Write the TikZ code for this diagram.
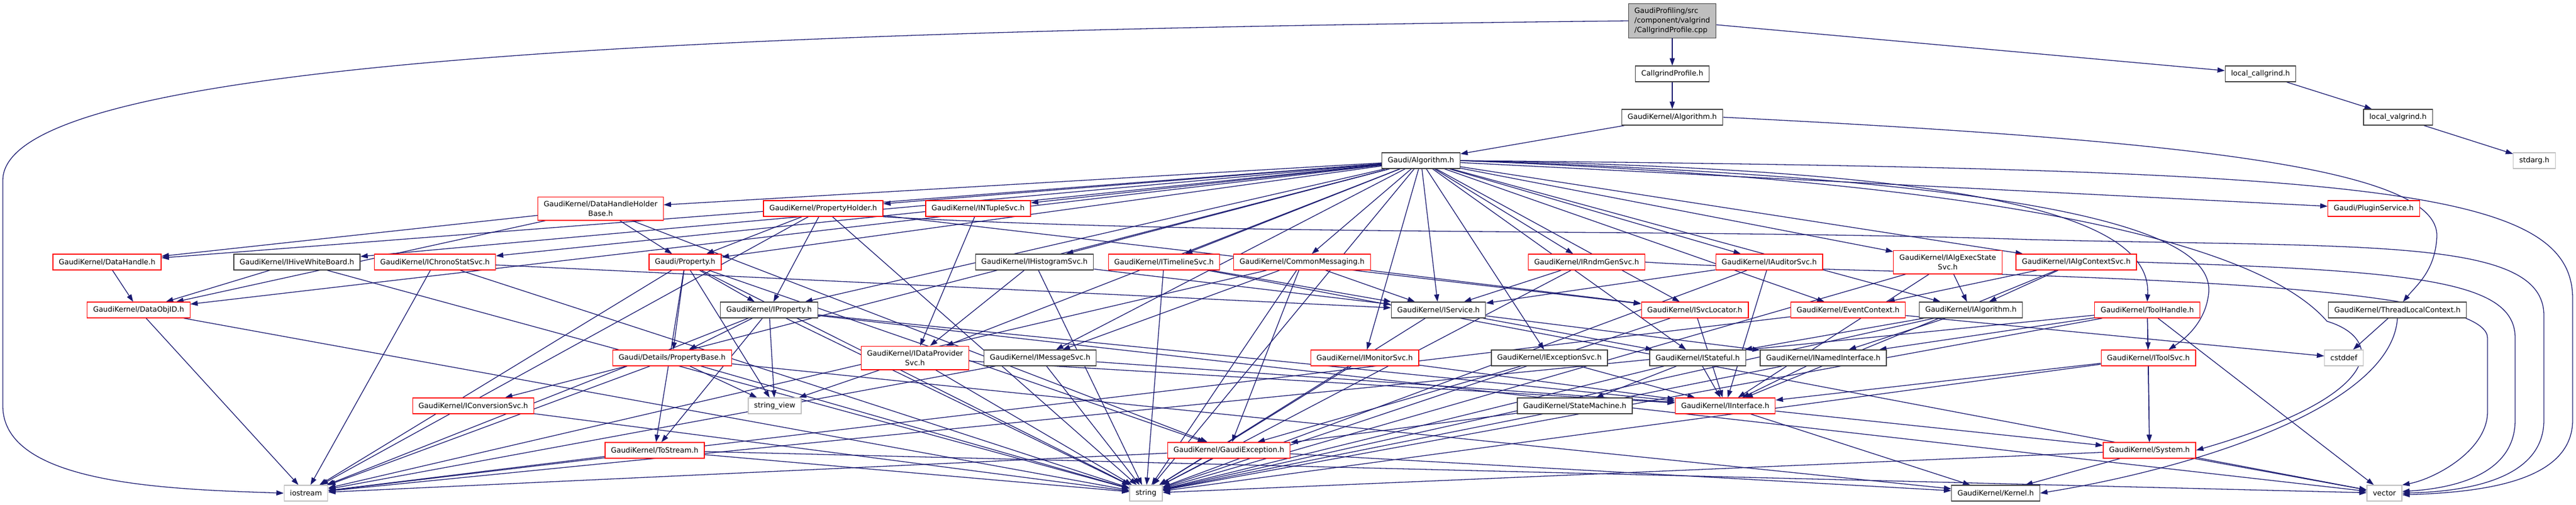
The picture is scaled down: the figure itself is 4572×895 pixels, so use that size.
\documentclass[tikz,border=0pt]{standalone}
\usepackage{fontspec}
\setmainfont{DejaVu Sans}
\usepackage{xcolor}
\usepackage{tikz}
\usetikzlibrary{arrows.meta}
\usetikzlibrary{backgrounds}
\definecolor{edgeblue}{HTML}{191970}
\definecolor{boxred}{HTML}{FF0000}
\definecolor{boxgray}{HTML}{BFBFBF}
\definecolor{boxblack}{HTML}{404040}
\tikzset{
    filebox/.style={
           rectangle,
           draw=boxblack, line width=1.3pt,
           fill=white,
           minimum height=28pt,
           inner xsep=10.5pt,
           inner ysep=7.5pt,
           align=center,
           font=\fontsize{12.9}{16.7}\selectfont,
           },
    redbox/.style={
           filebox,
           draw=boxred,
           },
    sysbox/.style={
           filebox,
           draw=boxgray,
           },
    mainbox/.style={
           filebox,
           fill=boxgray,
           align=left,
           },
    dep/.style={
           color=edgeblue, line width=1.3pt,
           -{Triangle[length=13pt,width=9pt]},
           },
}
\begin{document}
\begin{tikzpicture}[x=1pt, y=-1pt]
	\useasboundingbox (0,0) rectangle (4572,895);

	% top of the graph
	\node[mainbox] (main) at (2968,37) {GaudiProfiling/src\\/component/valgrind\\/CallgrindProfile.cpp};
	\node[filebox] (cgprof) at (2968,131) {CallgrindProfile.h};
	\node[filebox] (lcallgrind) at (4012,131) {local\_callgrind.h};
	\node[filebox] (gkalg) at (2968,208) {GaudiKernel/Algorithm.h};
	\node[filebox] (lvalgrind) at (4256,208) {local\_valgrind.h};
	\node[filebox] (ga) at (2522,285) {Gaudi/Algorithm.h};
	\node[sysbox] (stdarg) at (4498,285) {stdarg.h};

	% headers of Gaudi/Algorithm.h
	\node[redbox] (dhhb) at (1066,370) {GaudiKernel/DataHandleHolder\\Base.h};
	\node[redbox] (propholder) at (1461,370) {GaudiKernel/PropertyHolder.h};
	\node[redbox] (ntuple) at (1736,370) {GaudiKernel/INTupleSvc.h};
	\node[redbox] (plugin) at (4213,370) {Gaudi/PluginService.h};

	\node[redbox] (dhandle) at (190,465) {GaudiKernel/DataHandle.h};
	\node[filebox] (hive) at (527,465) {GaudiKernel/IHiveWhiteBoard.h};
	\node[redbox] (chrono) at (772,465) {GaudiKernel/IChronoStatSvc.h};
	\node[redbox] (prop) at (1216,465) {Gaudi/Property.h};
	\node[filebox] (histo) at (1836,465) {GaudiKernel/IHistogramSvc.h};
	\node[redbox] (timeline) at (2066,465) {GaudiKernel/ITimelineSvc.h};
	\node[redbox] (commsg) at (2311,465) {GaudiKernel/CommonMessaging.h};
	\node[redbox] (rndm) at (2816,465) {GaudiKernel/IRndmGenSvc.h};
	\node[redbox] (auditor) at (3140,465) {GaudiKernel/IAuditorSvc.h};
	\node[redbox] (execstate) at (3457,465) {GaudiKernel/IAlgExecState\\Svc.h};
	\node[redbox] (algctx) at (3685,465) {GaudiKernel/IAlgContextSvc.h};

	\node[redbox] (objid) at (246,550) {GaudiKernel/DataObjID.h};
	\node[filebox] (iprop) at (1365,550) {GaudiKernel/IProperty.h};
	\node[filebox] (isvc) at (2553,550) {GaudiKernel/IService.h};
	\node[redbox] (svcloc) at (3008,550) {GaudiKernel/ISvcLocator.h};
	\node[redbox] (evctx) at (3280,550) {GaudiKernel/EventContext.h};
	\node[filebox] (ialg) at (3498,550) {GaudiKernel/IAlgorithm.h};
	\node[redbox] (toolhandle) at (3811,550) {GaudiKernel/ToolHandle.h};
	\node[filebox] (tlc) at (4255,550) {GaudiKernel/ThreadLocalContext.h};

	\node[redbox] (pbase) at (1193,635) {Gaudi/Details/PropertyBase.h};
	\node[redbox] (dataprov) at (1624,635) {GaudiKernel/IDataProvider\\Svc.h};
	\node[filebox] (msgsvc) at (1846,635) {GaudiKernel/IMessageSvc.h};
	\node[redbox] (monitor) at (2422,635) {GaudiKernel/IMonitorSvc.h};
	\node[filebox] (exception) at (2750,635) {GaudiKernel/IExceptionSvc.h};
	\node[filebox] (stateful) at (3013,635) {GaudiKernel/IStateful.h};
	\node[filebox] (inamed) at (3236,635) {GaudiKernel/INamedInterface.h};
	\node[redbox] (toolsvc) at (3813,635) {GaudiKernel/IToolSvc.h};
	\node[sysbox] (cstddef) at (4160,635) {cstddef};

	\node[redbox] (convsvc) at (840,720) {GaudiKernel/IConversionSvc.h};
	\node[sysbox] (sview) at (1375,720) {string\_view};
	\node[filebox] (statemachine) at (2795,720) {GaudiKernel/StateMachine.h};
	\node[redbox] (iinterface) at (3062,720) {GaudiKernel/IInterface.h};

	\node[redbox] (tostream) at (1162,799) {GaudiKernel/ToStream.h};
	\node[redbox] (gexc) at (2181,799) {GaudiKernel/GaudiException.h};
	\node[redbox] (system) at (3815,799) {GaudiKernel/System.h};

	\node[sysbox] (iostream) at (543,875) {iostream};
	\node[sysbox] (string) at (2034,875) {string};
	\node[filebox] (kernel) at (3542,875) {GaudiKernel/Kernel.h};
	\node[sysbox] (vector) at (4232,875) {vector};

	\begin{pgfonlayer}{background}
	% top chain
	\path[dep]	(main) edge (cgprof)
				(main) edge (lcallgrind)
				(cgprof) edge (gkalg)
				(gkalg) edge (ga)
				(lcallgrind) edge (lvalgrind)
				(lvalgrind) edge (stdarg);
	\draw[dep] (main.west) .. controls (1200,55) and (5,110) .. (5,320) -- (5,720)
		.. controls (5,860) and (300,868) .. (iostream.west);
	\draw[dep] (gkalg.east) .. controls (3900,250) and (4330,300) .. (4325,420)
		.. controls (4322,480) and (4290,505) .. ([xshift=10pt]tlc.north);

	% Gaudi/Algorithm.h
	\path[dep]	(ga) edge (dhhb)
				(ga) edge (propholder)
				(ga) edge (ntuple)
				(ga) edge (plugin)
				(ga) edge (dhandle)
				(ga) edge (hive)
				(ga) edge (chrono)
				(ga) edge (prop)
				(ga) edge (histo)
				(ga) edge (timeline)
				(ga) edge (commsg)
				(ga) edge (rndm)
				(ga) edge (auditor)
				(ga) edge (execstate)
				(ga) edge (algctx)
				(ga) edge (objid)
				(ga) edge (iprop)
				(ga) edge (isvc)
				(ga) edge (svcloc)
				(ga) edge (evctx)
				(ga) edge (ialg)
				(ga) edge (msgsvc)
				(ga) edge (dataprov)
				(ga) edge (monitor)
				(ga) edge (exception)
				(ga) edge (stateful)
				(ga) edge (convsvc)
				(ga) edge (string);
	\draw[dep] (ga.east) .. controls (3500,300) and (3820,380) .. (toolhandle.north);
	\draw[dep] (ga.east) .. controls (3700,320) and (3930,420) .. (3920,520)
		.. controls (3915,570) and (3880,600) .. ([xshift=36pt]toolsvc.north);
	\draw[dep] (ga.east) .. controls (3500,320) and (4000,420) .. (4130,570)
		.. controls (4230,600) and (4240,700) .. (system.east);
	\draw[dep] (ga.east) .. controls (4200,300) and (4566,330) .. (4566,530) -- (4566,745)
		.. controls (4566,850) and (4420,873) .. ([yshift=-3pt]vector.east);

	% arcs into vector
	\draw[dep] (propholder.south east) .. controls (2200,420) and (3000,405) .. (3600,425)
		.. controls (4200,440) and (4515,420) .. (4515,560) -- (4515,745)
		.. controls (4515,850) and (4380,872) .. (vector.east);
	\draw[dep] (algctx.east) .. controls (4300,480) and (4464,500) .. (4464,600) -- (4464,745)
		.. controls (4464,840) and (4360,866) .. ([yshift=3pt]vector.east);
	\draw[dep] (rndm.east) .. controls (3300,490) and (4415,480) .. (4415,600) -- (4415,730)
		.. controls (4415,800) and (4320,850) .. (vector.north east);
	\draw[dep] (tlc.south) .. controls (4245,720) and (3900,830) .. (kernel.east);

	% second level
	\path[dep]	(dhhb) edge (dhandle)
				(dhhb) edge (objid)
				(dhhb) edge (prop)
				(dhhb) edge (gexc)
				(propholder) edge (prop)
				(propholder) edge (iprop)
				(propholder) edge (svcloc)
				(propholder) edge (string)
				(propholder) edge (iostream)
				(ntuple) edge (dataprov)
				(dhandle) edge (objid)
				(hive) edge (objid)
				(hive) edge (string)
				(chrono) edge (isvc)
				(chrono) edge (string)
				(chrono) edge (iostream)
				(prop) edge (iprop)
				(prop) edge (pbase)
				(prop) edge (sview)
				(prop) edge (tostream)
				(prop) edge (gexc)
				(prop) edge (string)
				(prop) edge (iostream)
				(histo) edge (dataprov)
				(histo) edge (isvc)
				(histo) edge (string)
				(timeline) edge (isvc)
				(timeline) edge (string)
				(timeline) edge (vector)
				(commsg) edge (msgsvc)
				(commsg) edge (isvc)
				(commsg) edge (svcloc)
				(commsg) edge (gexc)
				(commsg) edge (string)
				(commsg) edge (iostream)
				(rndm) edge (isvc)
				(rndm) edge (string)
				(auditor) edge (isvc)
				(auditor) edge (iinterface)
				(auditor) edge (string)
				(execstate) edge (ialg)
				(execstate) edge (iinterface)
				(execstate) edge (string)
				(algctx) edge (evctx)
				(algctx) edge (ialg)
				(algctx) edge (iinterface);

	% third level
	\path[dep]	(objid) edge (iostream)
				(objid) edge (string)
				(iprop) edge (pbase)
				(iprop) edge (sview)
				(iprop) edge (tostream)
				(iprop) edge (iinterface)
				(iprop) edge (string)
				(iprop) edge (iostream)
				(iprop) edge (vector)
				(isvc) edge (inamed)
				(isvc) edge (stateful)
				(isvc) edge (string)
				(svcloc) edge (iinterface)
				(svcloc) edge (string)
				(evctx) edge (cstddef)
				(evctx) edge (iostream)
				(ialg) edge (inamed)
				(ialg) edge (stateful)
				(ialg) edge (string)
				(toolhandle) edge (toolsvc)
				(toolhandle) edge (inamed)
				(toolhandle) edge (system)
				(toolhandle) edge (iostream)
				(toolhandle) edge (string)
				(toolhandle) edge (vector)
				(tlc) edge (cstddef);

	% lower levels
	\path[dep]	(pbase) edge (sview)
				(pbase) edge (string)
				(pbase) edge (iostream)
				(pbase) edge (kernel)
				(dataprov) edge (sview)
				(dataprov) edge (iinterface)
				(dataprov) edge (string)
				(msgsvc) edge (iinterface)
				(msgsvc) edge (string)
				(msgsvc) edge (iostream)
				(monitor) edge (iinterface)
				(monitor) edge (string)
				(exception) edge (iinterface)
				(exception) edge (gexc)
				(stateful) edge (statemachine)
				(stateful) edge (iinterface)
				(stateful) edge (string)
				(inamed) edge (iinterface)
				(inamed) edge (string)
				(toolsvc) edge (system)
				(toolsvc) edge (iinterface)
				(toolsvc) edge (string)
				(convsvc) edge (string)
				(statemachine) edge (gexc)
				(iinterface) edge (system)
				(iinterface) edge (kernel)
				(tostream) edge (string)
				(tostream) edge (iostream)
				(tostream) edge (vector)
				(gexc) edge (string)
				(gexc) edge (iostream)
				(gexc) edge (kernel)
				(system) edge (kernel)
				(system) edge (vector)
				(system) edge (string);
	\end{pgfonlayer}

\end{tikzpicture}
\end{document}
